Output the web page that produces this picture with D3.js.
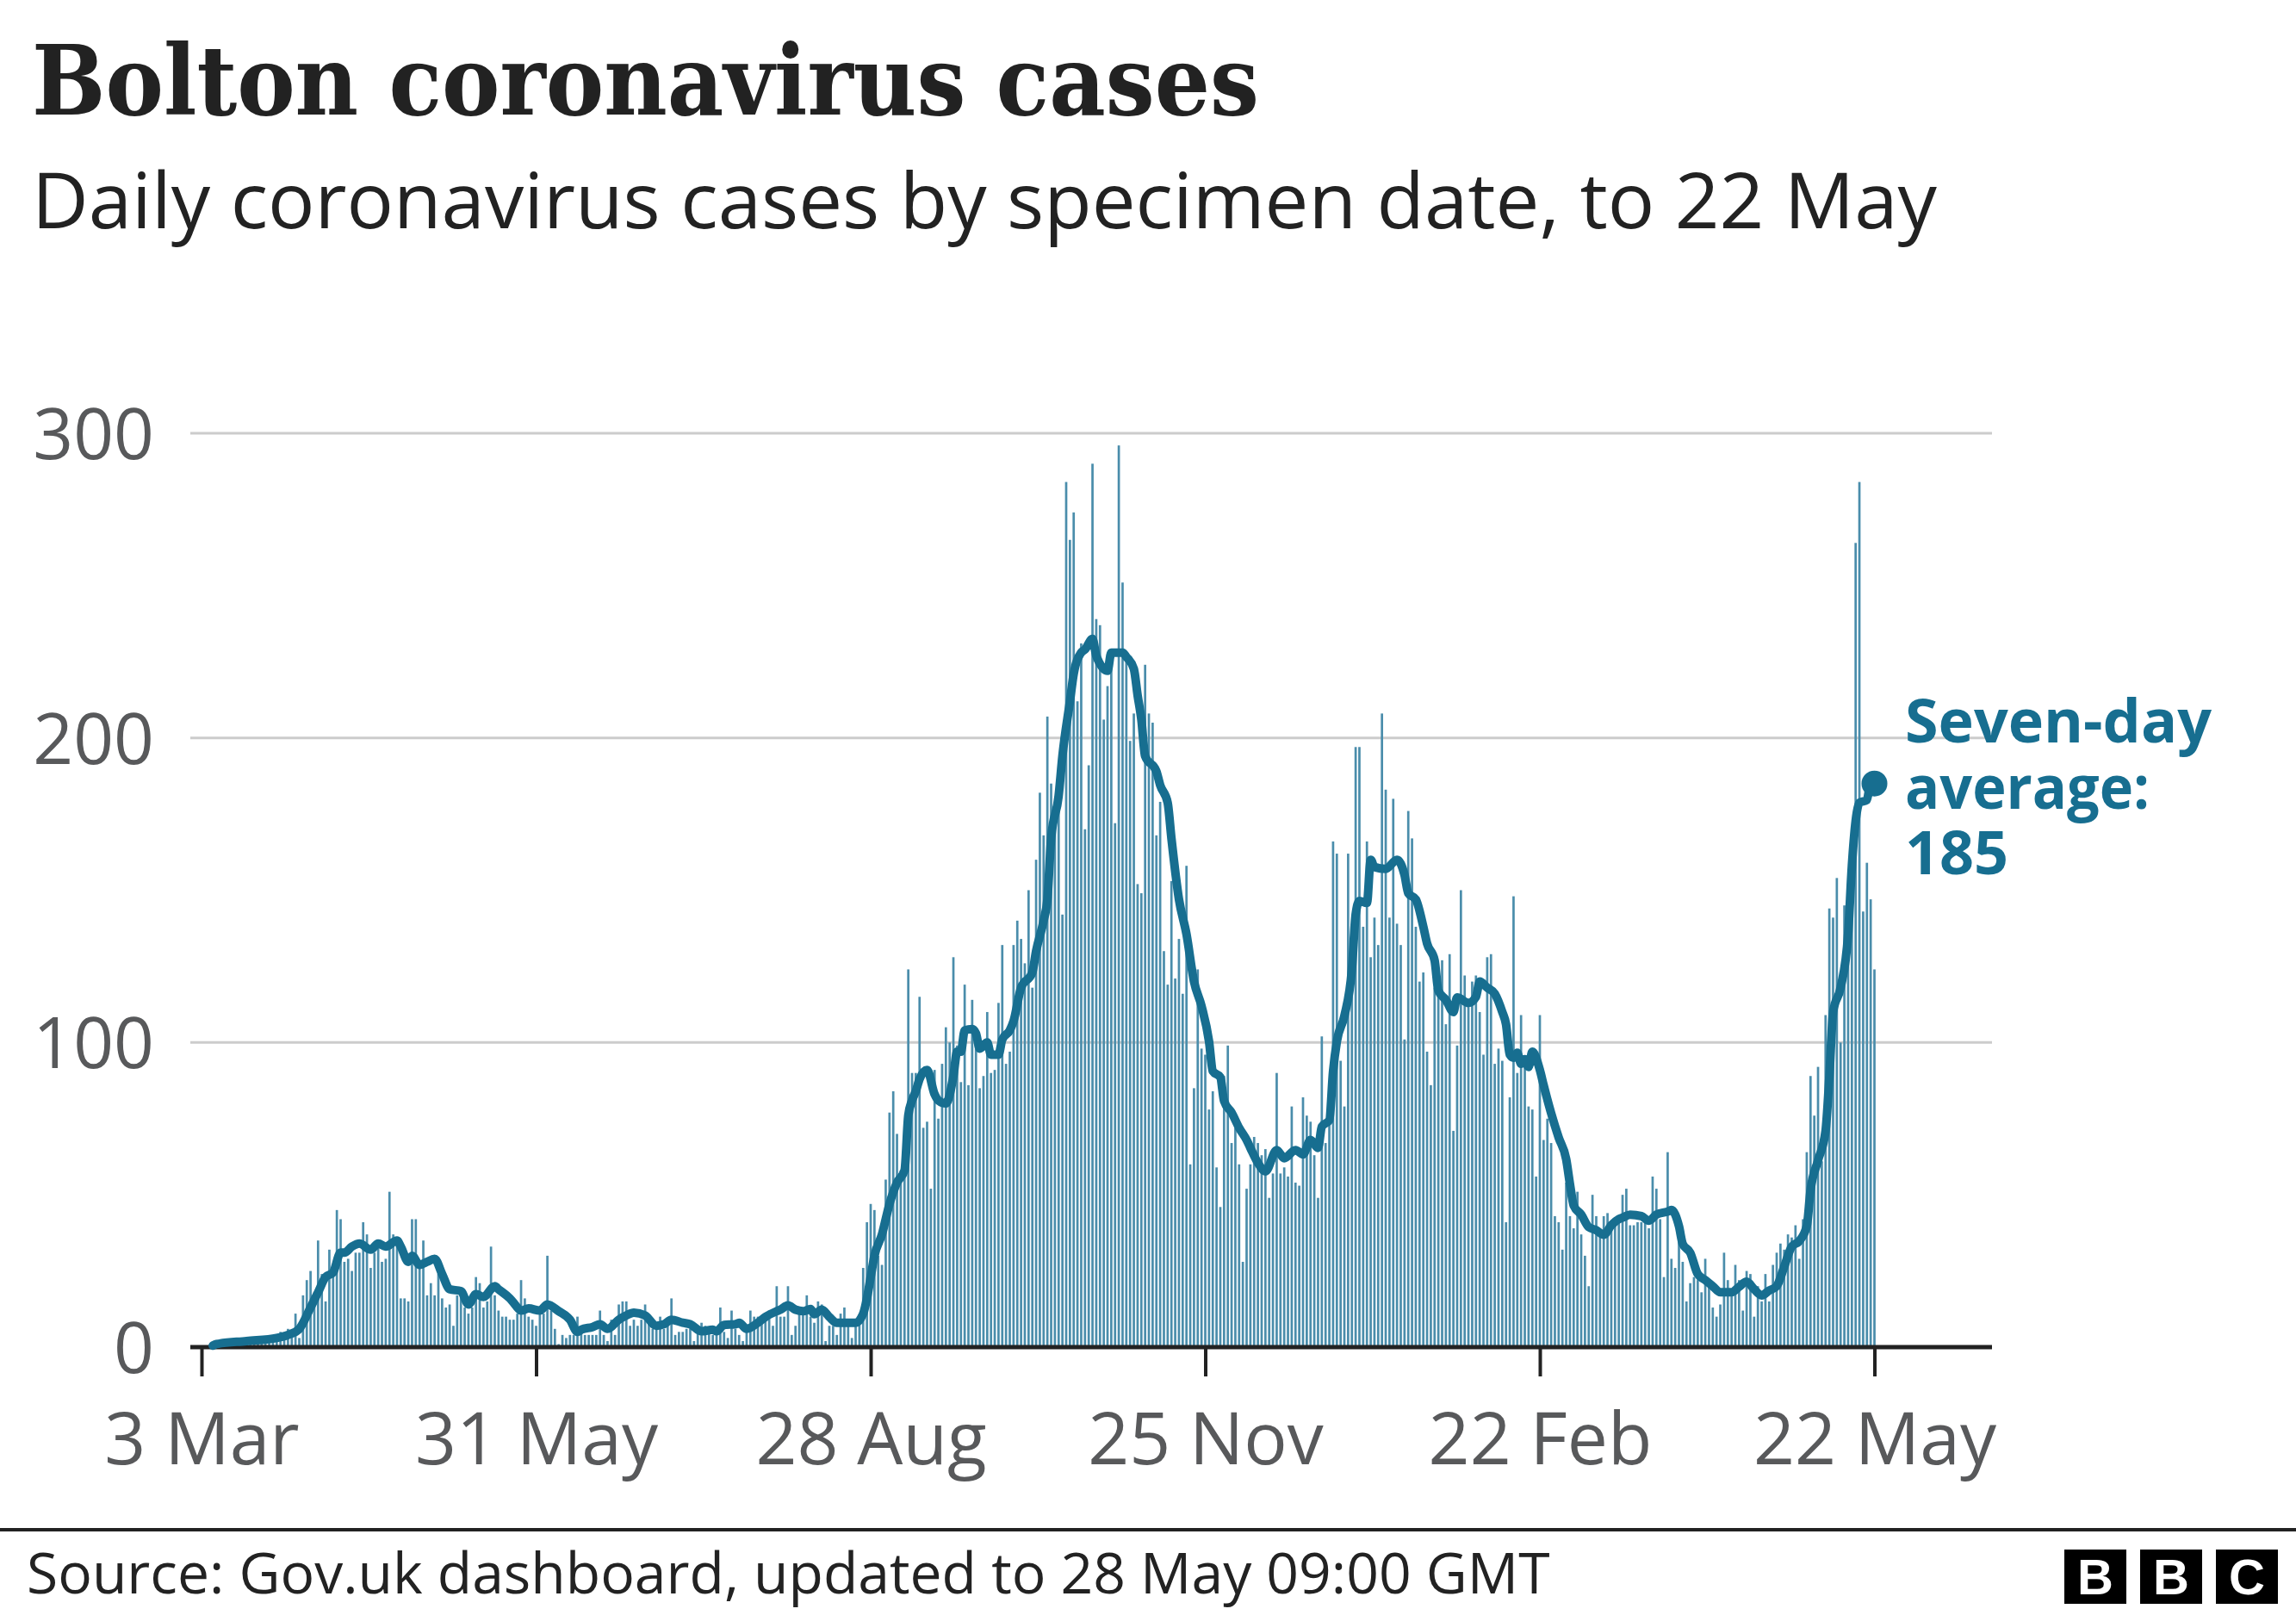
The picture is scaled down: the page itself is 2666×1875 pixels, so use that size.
<!DOCTYPE html>
<html><head><meta charset="utf-8">
<script src="https://cdn.jsdelivr.net/npm/d3@7"></script>
<style>html,body{margin:0;padding:0;background:#fff;} svg{display:block;}</style>
</head><body>
<svg id="chart" width="2666" height="1875"></svg>
<script>
// ---------------- DATA ----------------
const titleText = "Bolton coronavirus cases";
const subtitleText = "Daily coronavirus cases by specimen date, to 22 May";
const sourceText = "Source: Gov.uk dashboard, updated to 28 May 09:00 GMT";
const startDate = "2020-03-03";
// daily cases, one value per day from 3 Mar 2020 to 22 May 2021
const dailyCases = [
  0,0,0,1,1,0,1,1,2,1,2,1,2,2,3,2,3,2,3,4,3,
  5,4,6,4,11,3,17,22,25,18,
  35,24,15,32,24,45,42,28,29,25,
  31,31,41,37,26,31,33,28,29,51,
  37,36,16,16,15,42,42,26,35,17,
  21,17,24,16,13,14,7,17,19,13,
  11,13,23,21,13,15,33,17,12,10,
  10,9,9,11,22,16,10,9,7,11,
  11,30,12,6,1,4,3,4,4,10,
  5,4,4,4,4,12,4,2,9,4,
  14,15,15,7,9,7,9,14,8,6,
  6,10,6,8,16,4,5,5,6,6,
  2,6,8,7,6,4,4,13,5,3,
  12,6,4,2,6,12,10,10,8,11,
  12,7,20,10,10,20,4,7,12,13,
  17,10,8,15,14,2,7,7,4,11,
  13,7,3,7,8,26,41,47,45,30,
  27,55,77,84,70,58,62,124,90,90,
  115,72,74,52,91,75,93,105,100,128,
  99,87,119,86,114,101,85,89,110,90,
  91,113,132,93,97,132,140,134,126,150,
  118,160,182,168,207,185,171,189,142,284,
  265,274,212,231,170,191,290,239,237,206,
  217,226,172,296,251,228,199,208,152,149,
  224,208,205,168,179,130,119,153,121,134,
  116,158,60,85,124,98,96,78,84,59,
  46,89,99,67,72,60,28,52,60,69,
  67,63,65,49,57,90,57,59,56,79,
  54,53,82,76,74,63,49,102,67,74,
  166,162,94,79,162,127,197,197,138,166,
  128,141,132,208,183,141,180,139,132,101,
  176,167,138,120,123,97,86,118,116,127,
  106,129,71,99,150,122,114,120,122,110,
  96,128,129,93,98,94,41,82,148,90,
  109,94,79,78,56,109,68,75,67,43,
  41,32,54,43,39,51,37,30,20,50,
  43,37,43,44,39,42,41,50,52,40,
  40,41,41,43,39,56,52,42,23,64,
  29,26,36,28,15,21,23,22,18,29,
  22,13,10,14,31,22,18,27,22,12,
  25,24,10,20,15,24,15,27,31,34,
  32,37,36,40,29,42,64,89,76,92,
  61,109,144,141,154,100,145,138,171,264,
  284,143,159,147,124
];
// seven-day average (day offset from start, value)
const avgDay = [3,4,12,20,23,26,29,31,33,35,37,38,40,42,45,47,49,52,53,55,56,58,60,62,64,66,69,71,73,75,78,79,82,83,85,87,90,92,95,98,
  100,101,104,106,108,111,113,115,118,121,123,125,128,130,133,136,137,139,142,143,145,148,150,153,154,156,158,160,162,163,165,167,169,174,176,177,178,179,181,183,185,187,188,189,190,191,193,195,196,198,
  200,201,202,203,205,206,207,209,210,212,213,215,216,218,221,222,224,225,226,228,229,231,232,234,235,237,238,241,242,245,246,248,249,250,251,254,255,257,258,260,262,264,266,268,269,271,272,274,276,278,279,281,283,286,288,291,293,295,297,298,
  300,301,302,304,306,307,308,310,311,312,315,318,320,321,323,325,326,328,329,331,333,334,337,339,340,342,344,346,347,348,349,350,351,352,353,354,356,357,359,361,363,364,365,367,369,371,373,375,377,378,380,383,385,387,390,391,393,394,396,398,
  400,402,404,407,409,411,413,415,417,419,421,423,425,427,428,430,432,433,434,436,438,439,441,443,444,445];
const avgValue = [0.5,1,2,3,4,6,13,18,23,24.5,31,31,33,34,32,34,33,35,33,28,30,27,28,29,24,19,18.4,14,17.4,16.5,20,19,16,14.6,12,12.7,12,14,11.8,9,
  5,5.7,6.6,7.5,6,9,10.4,11.3,10.4,7,7.5,9,8,7.5,5.2,5.7,5.2,7.3,7.5,8,6,8,9.9,11.8,12.3,13.7,12.3,11.8,12.5,10.8,12.3,9.9,8,8,11,16,23,30,37,47,54,58,76,81,84,88,91,83,81,80,
  89,97,97,104,104.4,103,98,100,96,96,101,104,107,118,123,130,140,147,167,181,194,212,221,228,229,232.5,227,222,228,228,226.6,222.7,214,206,194,189,184.5,178.7,167,147,135.6,120,112,100.4,90.6,88.6,80.8,77,72,68,65.4,60.5,57.7,64.7,62,64.7,63.3,68,65.4,72.4,
  74.5,90.6,100.3,108.7,124,142,146.5,145.8,160,157.6,157,160,155,149,147,138,132.5,127,117,114,110,114.8,113,115,120,118,116,110,106,96,95,96.6,93,94.5,92,97,91,86,76.8,68.8,61.7,53.6,46.5,43.5,39.4,38.4,36.9,40,42,42.5,43.5,43,41.5,43.5,44.5,45,39.7,33.9,31,24,
  22,20,18,18,19.8,21.5,19,17,18.6,20,26.4,33,34.8,39.7,51.5,61.3,71,88.6,110,118,135.6,158,178.7,179.6,185.5,185];
const latestAverage = 185;
const annotationLines = ["Seven-day", "average:", String(latestAverage)];
const yTickValues = [0, 100, 200, 300];
const xTickDates = ["2020-03-03","2020-05-31","2020-08-28","2020-11-25","2021-02-22","2021-05-22"];
const xTickLabels = ["3 Mar","31 May","28 Aug","25 Nov","22 Feb","22 May"];

// ---------------- CHART ----------------
const svg = d3.select("#chart");
const parse = d3.utcParse("%Y-%m-%d");
const t0 = parse(startDate);
const dayDate = i => d3.utcDay.offset(t0, i);
const lastDate = dayDate(dailyCases.length - 1);

const x = d3.scaleUtc().domain([t0, lastDate]).range([234, 2176.5]);
const y = d3.scaleLinear().domain([0, 300]).range([1564, 503]);
const gridX0 = 221, gridX1 = 2313;

const lineColor = "#176e90";
const barColor = "#4a8dab";
const sans = "'Open Sans', 'Noto Sans', sans-serif";

function fit(sel, w) {
  const L = sel.node().getComputedTextLength();
  if (Math.abs(L - w) / w > 0.005) sel.attr("textLength", w).attr("lengthAdjust", "spacingAndGlyphs");
}

// gridlines
svg.append("g").selectAll("line").data(yTickValues.filter(v => v > 0)).join("line")
  .attr("x1", gridX0).attr("x2", gridX1)
  .attr("y1", d => y(d)).attr("y2", d => y(d))
  .attr("stroke", "#cccccc").attr("stroke-width", 3);

// y labels
svg.append("g").selectAll("text").data(yTickValues).join("text")
  .attr("x", 179).attr("y", d => y(d) + 30)
  .attr("text-anchor", "end")
  .attr("font-family", sans).attr("font-size", 82).attr("fill", "#58595b")
  .text(d => d);

// bars
const bw = 2.7;
svg.append("g").selectAll("rect").data(dailyCases).join("rect")
  .attr("x", (d, i) => x(dayDate(i)) - bw / 2)
  .attr("width", bw)
  .attr("y", d => y(d))
  .attr("height", d => y(0) - y(d))
  .attr("fill", barColor);

// x axis
const xAxis = d3.axisBottom(x)
  .tickValues(xTickDates.map(parse))
  .tickSize(34)
  .tickFormat((d, i) => xTickLabels[i]);
const gx = svg.append("g").attr("transform", `translate(0,${y(0)})`).call(xAxis);
gx.select(".domain").remove();
gx.selectAll(".tick line").attr("stroke", "#222").attr("stroke-width", 4);
gx.selectAll(".tick text")
  .attr("y", 136).attr("dy", 0)
  .attr("font-family", sans).attr("font-size", 84).attr("fill", "#58595b");

// zero baseline
svg.append("line")
  .attr("x1", gridX0).attr("x2", gridX1)
  .attr("y1", y(0)).attr("y2", y(0))
  .attr("stroke", "#222").attr("stroke-width", 5);

// seven-day average line
const avgPts = avgDay.map((d, i) => ({ date: dayDate(d), v: avgValue[i] }));
const line = d3.line().x(d => x(d.date)).y(d => y(d.v)).curve(d3.curveMonotoneX);
svg.append("path").datum(avgPts)
  .attr("d", line)
  .attr("fill", "none").attr("stroke", lineColor)
  .attr("stroke-width", 10).attr("stroke-linejoin", "round").attr("stroke-linecap", "round");

svg.append("circle")
  .attr("cx", x(lastDate)).attr("cy", y(latestAverage)).attr("r", 15)
  .attr("fill", lineColor);

// annotation (one text block, three lines)
const annW = [350, 284, 118];
const ann = svg.append("text")
  .attr("x", 2212).attr("y", 862)
  .attr("font-family", sans).attr("font-weight", 700).attr("font-size", 70)
  .attr("fill", lineColor);
annotationLines.forEach((t, i) => {
  const s = ann.append("tspan").attr("x", 2212).attr("y", 862 + i * 76.5).text(t);
  const L = s.node().getComputedTextLength();
  if (Math.abs(L - annW[i]) / annW[i] > 0.02) s.attr("textLength", annW[i]).attr("lengthAdjust", "spacingAndGlyphs");
});

// title & subtitle
const title = svg.append("text").attr("x", 37).attr("y", 133)
  .attr("font-family", "'DejaVu Serif', serif").attr("font-weight", 700).attr("font-size", 112)
  .attr("fill", "#222").text(titleText);
fit(title, 1425);
const sub = svg.append("text").attr("x", 37).attr("y", 265)
  .attr("font-family", sans).attr("font-size", 90)
  .attr("fill", "#222").text(subtitleText);
fit(sub, 2212);

// footer
svg.append("line").attr("x1", 0).attr("x2", 2666).attr("y1", 1776).attr("y2", 1776)
  .attr("stroke", "#222").attr("stroke-width", 4);
const src = svg.append("text").attr("x", 31).attr("y", 1850)
  .attr("font-family", sans).attr("font-size", 66).attr("fill", "#222").text(sourceText);
fit(src, 1771);

const logo = svg.append("g");
["B", "B", "C"].forEach((c, i) => {
  const bx = 2397 + i * 88;
  logo.append("rect").attr("x", bx).attr("y", 1799).attr("width", 72).attr("height", 63).attr("fill", "#000");
  logo.append("text").attr("x", bx + 36).attr("y", 1851).attr("text-anchor", "middle")
    .attr("font-family", "'Liberation Sans', Arial, sans-serif").attr("font-weight", 700).attr("font-size", 58)
    .attr("fill", "#fff").text(c);
});
</script>
</body></html>
